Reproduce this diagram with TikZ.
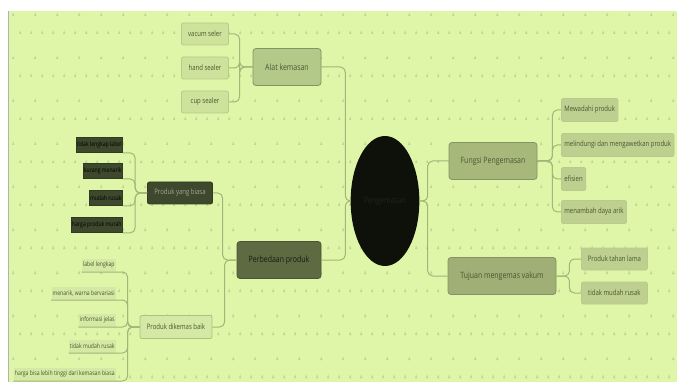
\documentclass[tikz,border=0pt]{standalone}
\usepackage{fontspec}
\setmainfont{Open Sans}[FakeStretch=0.8]
\usetikzlibrary{shapes.geometric}

\definecolor{latar}{HTML}{DFF5A7}
\definecolor{tanda}{HTML}{C0D598}
\definecolor{garisc}{HTML}{A3B67A}
\definecolor{hijau1}{HTML}{B3C98A}
\definecolor{hijau2}{HTML}{A7B87B}
\definecolor{hijau3}{HTML}{CDE29B}
\definecolor{hijau4}{HTML}{D4E9A3}
\definecolor{gelap1}{HTML}{5E6A42}
\definecolor{gelap2}{HTML}{3E482C}
\definecolor{teks}{HTML}{4B5632}
\definecolor{akarc}{HTML}{0E1109}
\definecolor{akarteks}{HTML}{1F2416}

\begin{document}
\begin{tikzpicture}[x=1pt, y=-1pt, node distance=34pt, thick]

        % Styles
        \tikzstyle{utama}=[rectangle, draw=hijau2!80!black, fill=hijau1, rounded corners=3pt, minimum height=37pt, text=teks, font=\fontsize{8.7}{10}\selectfont]
        \tikzstyle{daun}=[rectangle, draw=hijau3!90!black, fill=hijau3, rounded corners=2pt, minimum height=22pt, inner xsep=3pt, text=teks, font=\fontsize{7.5}{9}\selectfont]
        \tikzstyle{daungelap}=[rectangle, draw=gelap2!80!black, fill=gelap2, minimum height=15pt, inner xsep=1pt, inner ysep=0pt, text=black, font=\fontsize{6.4}{7}\selectfont]
        \tikzstyle{garisbawah}=[rectangle, fill=hijau4, minimum height=13pt, inner xsep=1pt, inner ysep=0pt, text=teks, font=\fontsize{6.4}{7}\selectfont]
        \tikzstyle{garis}=[draw=garisc, line width=1pt, rounded corners=5pt]

        \useasboundingbox (0,0) rectangle (677,382);

        % Latar
        \fill[white] (0,0) rectangle (677,382);
        \fill[latar] (9,11) rectangle (677,382);
        \draw[gray!60, line width=1pt] (8.5,11) -- (8.5,382);
        \begin{scope}
          \clip (9,11) rectangle (677,382);
          \foreach \r in {0,...,8} {
            \foreach \c in {0,...,30}
              \fill[tanda] ({12+22*\c},{16+43*\r}) -- ++(1.2,-3.5) -- ++(1.2,3.5) -- cycle;
            \foreach \c in {0,...,60}
              \fill[tanda] ({19+11*\c},{34+43*\r}) -- ++(1.2,-3.5) -- ++(1.2,3.5) -- cycle;
          }
        \end{scope}

        % Nodes
        \node[ellipse, fill=akarc, minimum width=64pt, minimum height=130pt, text=akarteks, font=\fontsize{8.7}{10}\selectfont] (akar) at (385,201) {Pengemasan};

        \node[utama, minimum width=68pt] (alat) at (287,67) {Alat kemasan};
        \node[utama, minimum width=84pt, fill=gelap1, draw=gelap1!80!black, text=black!75!gelap1] (beda) at (279,260) {Perbedaan produk};
        \node[utama, minimum width=88pt, fill=hijau2] (fungsi) at (493,161) {Fungsi Pengemasan};
        \node[utama, minimum width=108pt, fill=hijau2!95!black] (tujuan) at (502,276) {Tujuan mengemas vakum};

        \node[daun, minimum width=47pt] (vacum) at (205,34) {vacum seler};
        \node[daun, minimum width=47pt, below of=vacum] (hand) {hand sealer};
        \node[daun, minimum width=47pt, below of=hand] (cup) {cup sealer};

        \node[daun, minimum width=65pt, fill=gelap2, draw=gelap2!80!black, text=gray!60!gelap2!60!white] (biasa) at (180,193) {Produk yang biasa};
        \node[daungelap, anchor=east] (label1) at (123,145) {tidak lengkap label};
        \node[daungelap, anchor=east] (menarik1) at (123,171) {kurang menarik};
        \node[daungelap, anchor=east] (rusak1) at (123,198) {mudah rusak};
        \node[daungelap, anchor=east] (murah) at (123,225) {harga produk murah};

        \node[daun, minimum width=72pt, minimum height=23pt, fill=hijau4, draw=hijau3!85!black] (baik) at (176,327) {Produk dikemas baik};
        \node[garisbawah, anchor=south east] (label2) at (116,272) {label lengkap};
        \node[garisbawah, anchor=south east] (menarik2) at (116,300) {menarik, warna bervariasi};
        \node[garisbawah, anchor=south east] (info) at (116,327) {informasi jelas};
        \node[garisbawah, anchor=south east] (rusak2) at (116,353) {tidak mudah rusak};
        \node[garisbawah, anchor=south east] (mahal) at (116,381) {harga bisa lebih tinggi dari kemasan biasa};

        \node[daun, anchor=west, minimum height=23pt, fill=hijau3!92!black] (wadah) at (561,110) {Mewadahi produk};
        \node[daun, anchor=west, minimum height=23pt, fill=hijau3!92!black] (awet) at (561,145) {melindungi dan mengawetkan produk};
        \node[daun, anchor=west, minimum height=23pt, fill=hijau3!92!black] (efisien) at (561,179) {efisien};
        \node[daun, anchor=west, minimum height=23pt, fill=hijau3!92!black] (tarik) at (561,212) {menambah daya arik};

        \node[daun, anchor=west, minimum width=66pt, fill=hijau3!92!black] (tahan) at (581,259) {Produk tahan lama};
        \node[daun, anchor=west, minimum width=66pt, fill=hijau3!92!black] (tidakrusak) at (581,293) {tidak mudah rusak};

        % Garis
        \draw[garis] (akar.west) -- ++(-5,0) |- (alat.east);
        \draw[garis] (akar.west) -- ++(-5,0) |- (beda.east);
        \draw[garis] (akar.east) -- ++(8,0) |- (fungsi.west);
        \draw[garis] (akar.east) -- ++(8,0) |- (tujuan.west);

        \foreach \d in {vacum, hand, cup}
          \draw[garis] (alat.west) -- ++(-13,0) |- (\d.east);

        \draw[garis] (beda.west) -- ++(-14,0) |- (biasa.east);
        \draw[garis] (beda.west) -- ++(-12,0) |- (baik.east);

        \foreach \d in {label1, menarik1, rusak1, murah}
          \draw[garis] (biasa.west) -- ++(-12,0) |- (\d.south east);

        \foreach \d in {label2, menarik2, info, rusak2, mahal}
          \draw[garis] (baik.west) -- ++(-12,0) |- (\d.south east) -- (\d.south west);

        \foreach \d in {wadah, awet, efisien, tarik}
          \draw[garis] (fungsi.east) -- ++(15,0) |- (\d.west);

        \foreach \d in {tahan, tidakrusak}
          \draw[garis] (tujuan.east) -- ++(13,0) |- (\d.west);

    \end{tikzpicture}
\end{document}
